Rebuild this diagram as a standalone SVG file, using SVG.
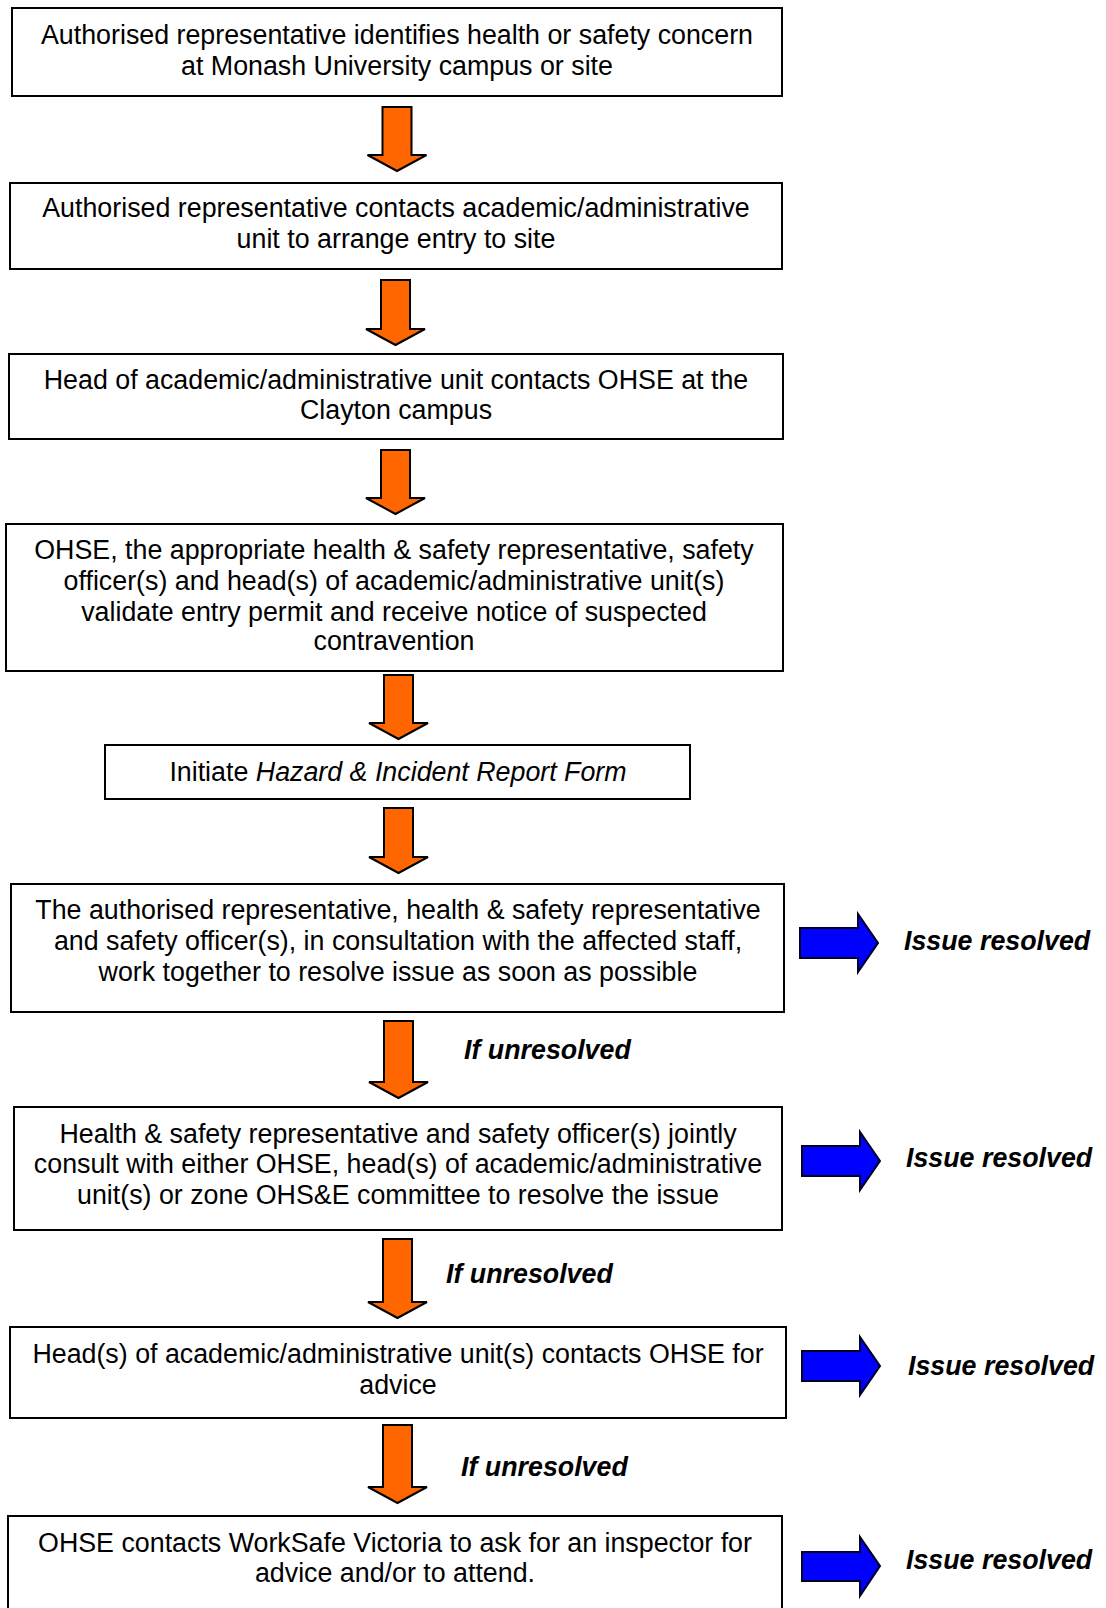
<svg xmlns="http://www.w3.org/2000/svg" width="1106" height="1608" viewBox="0 0 1106 1608">
<style>
.box{fill:#fff;stroke:#000;stroke-width:2}
.t{font-family:"Liberation Sans",Arial,sans-serif;font-size:26.8px;fill:#000;text-anchor:middle}
.lbl{font-family:"Liberation Sans",Arial,sans-serif;font-size:26.8px;font-weight:bold;font-style:italic;fill:#000}
.down{fill:#ff6600;stroke:#000;stroke-width:2;stroke-linejoin:miter}
.right{fill:#0000ff;stroke:#000022;stroke-width:2}
</style>
<rect width="1106" height="1608" fill="#fff"/>
<g id="n1"><rect class="box" x="12" y="8" width="770" height="88"/>
<text class="t" x="397" y="44">Authorised representative identifies health or safety concern</text>
<text class="t" x="397" y="75">at Monash University campus or site</text></g>
<g id="n2"><rect class="box" x="10" y="183" width="772" height="86"/>
<text class="t" x="396" y="217">Authorised representative contacts academic/administrative</text>
<text class="t" x="396" y="248">unit to arrange entry to site</text></g>
<g id="n3"><rect class="box" x="9" y="354" width="774" height="85"/>
<text class="t" x="396" y="389">Head of academic/administrative unit contacts OHSE at the</text>
<text class="t" x="396" y="419">Clayton campus</text></g>
<g id="n4"><rect class="box" x="6" y="524" width="777" height="147"/>
<text class="t" x="394" y="559">OHSE, the appropriate health &amp; safety representative, safety</text>
<text class="t" x="394" y="590">officer(s) and head(s) of academic/administrative unit(s)</text>
<text class="t" x="394" y="621">validate entry permit and receive notice of suspected</text>
<text class="t" x="394" y="650">contravention</text></g>
<g id="n5"><rect class="box" x="105" y="745" width="585" height="54"/>
<text class="t" x="398" y="781">Initiate <tspan font-style="italic">Hazard &amp; Incident Report Form</tspan></text></g>
<g id="n6"><rect class="box" x="11" y="884" width="773" height="128"/>
<text class="t" x="398" y="919">The authorised representative, health &amp; safety representative</text>
<text class="t" x="398" y="950">and safety officer(s), in consultation with the affected staff,</text>
<text class="t" x="398" y="981">work together to resolve issue as soon as possible</text></g>
<g id="n7"><rect class="box" x="14" y="1107" width="768" height="123"/>
<text class="t" x="398" y="1143">Health &amp; safety representative and safety officer(s) jointly</text>
<text class="t" x="398" y="1173">consult with either OHSE, head(s) of academic/administrative</text>
<text class="t" x="398" y="1204">unit(s) or zone OHS&amp;E committee to resolve the issue</text></g>
<g id="n8"><rect class="box" x="10" y="1327" width="776" height="91"/>
<text class="t" x="398" y="1363">Head(s) of academic/administrative unit(s) contacts OHSE for</text>
<text class="t" x="398" y="1394">advice</text></g>
<g id="n9"><rect class="box" x="8" y="1516" width="774" height="110"/>
<text class="t" x="395" y="1552">OHSE contacts WorkSafe Victoria to ask for an inspector for</text>
<text class="t" x="395" y="1582">advice and/or to attend.</text></g>
<g id="r1"><text class="lbl" x="904" y="950">Issue resolved</text></g>
<g id="r2"><text class="lbl" x="906" y="1167">Issue resolved</text></g>
<g id="r3"><text class="lbl" x="908" y="1375">Issue resolved</text></g>
<g id="r4"><text class="lbl" x="906" y="1569">Issue resolved</text></g>
<g id="connectors">
<path class="down" d="M382.5 107H411.5V155H426.5L397 171L367.5 155H382.5Z"/>
<path class="down" d="M381 280H410V329H425L395.5 345L366 329H381Z"/>
<path class="down" d="M381 450H410V498H425L395.5 514L366 498H381Z"/>
<path class="down" d="M384 675H413V723H428L398.5 739L369 723H384Z"/>
<path class="down" d="M384 808H413V857H428L398.5 873L369 857H384Z"/>
<path class="down" d="M384 1021H413V1082H428L398.5 1098L369 1082H384Z"/>
<path class="down" d="M383 1239H412V1302H427L397.5 1318L368 1302H383Z"/>
<path class="down" d="M383 1425H412V1487H427L397.5 1503L368 1487H383Z"/>
<text class="lbl" x="464" y="1059">If unresolved</text>
<text class="lbl" x="446" y="1283">If unresolved</text>
<text class="lbl" x="461" y="1476">If unresolved</text>
<path class="right" d="M800 928H858V914L878 943L858 972V958H800Z"/>
<path class="right" d="M802 1146H860V1132L880 1161L860 1190V1176H802Z"/>
<path class="right" d="M802 1351H860V1337L880 1366L860 1395V1381H802Z"/>
<path class="right" d="M802 1552H860V1537L880 1566L860 1596V1581H802Z"/>
</g>
</svg>
